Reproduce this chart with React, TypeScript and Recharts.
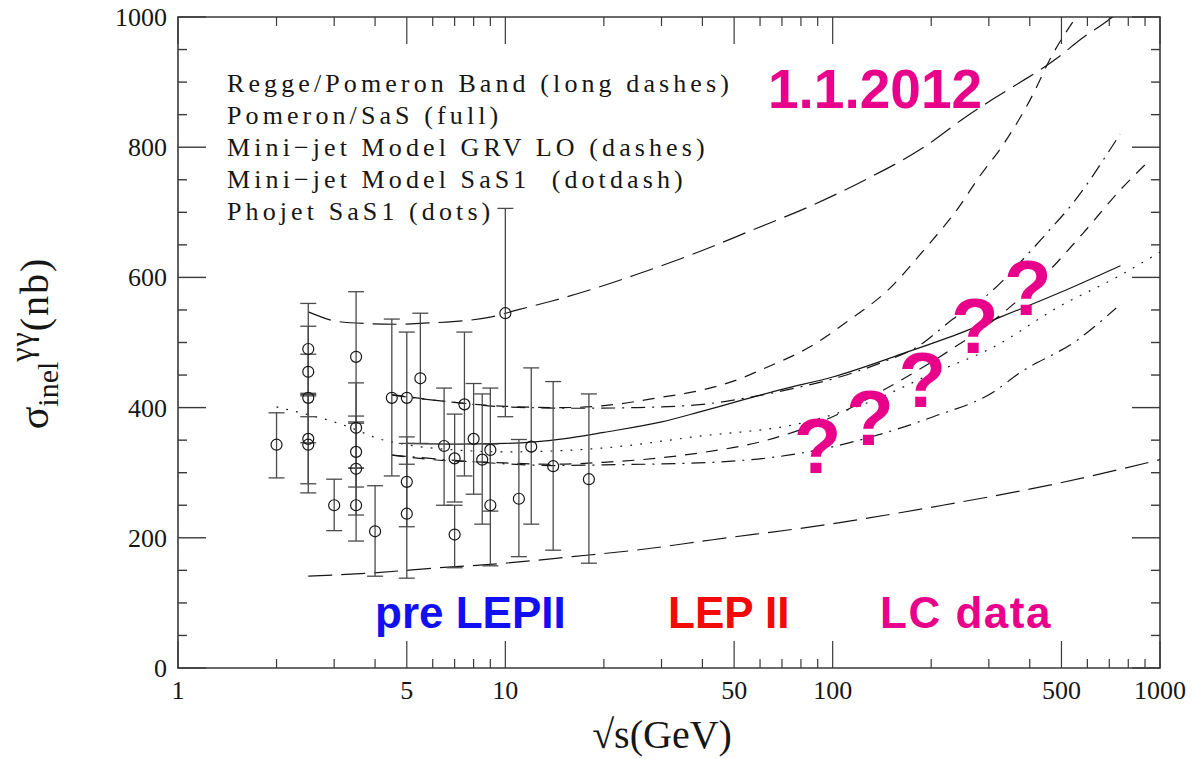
import React from "react";
import {
  ComposedChart,
  Line,
  Scatter,
  ErrorBar,
  XAxis,
  YAxis,
  ReferenceArea,
  ReferenceDot,
} from "recharts";

const WIDTH = 1197;
const HEIGHT = 759;
// plot box inside the svg (margins below are chosen to land here)
const PLOT = { left: 178, right: 1160, top: 17, bottom: 668 };

const INK = "#161616";
const FRAME = "#3a3a3a";
const MAGENTA = "#e8008b";
const SERIF = "'Liberation Serif', 'Times New Roman', serif";
const SANS = "'Liberation Sans', Arial, sans-serif";

// axes
const xTicks = [
  1, 2, 3, 4, 5, 6, 7, 8, 9, 10, 20, 30, 40, 50, 60, 70, 80, 90, 100, 200,
  300, 400, 500, 600, 700, 800, 900, 1000,
];
const xLabels = [1, 5, 10, 50, 100, 500, 1000];
const yTicks = [
  0, 50, 100, 150, 200, 250, 300, 350, 400, 450, 500, 550, 600, 650, 700, 750,
  800, 850, 900, 950, 1000,
];
const yLabels = [0, 200, 400, 600, 800, 1000];

// measurements: sqrt(s) [GeV], sigma [nb], lower / upper end of error bar
const sqrtS = [
  2.0, 2.5, 2.5, 2.5, 2.5, 2.5, 3.0, 3.5, 3.5, 3.5, 3.5, 3.5, 4.0, 4.5, 5.0,
  5.0, 5.0, 5.5, 6.5, 7.0, 7.0, 7.5, 8.0, 8.5, 9.0, 9.0, 10, 11, 12, 14, 18,
];
const sigma = [
  343, 490, 455, 415, 352, 343, 250, 478, 369, 332, 306, 250, 210, 415, 415,
  286, 237, 445, 341, 322, 205, 405, 352, 320, 335, 250, 545, 260, 340, 310, 290,
];
const sigmaLow = [
  292, 420, 386, 346, 283, 269, 211, 378, 307, 278, 235, 195, 141, 295, 313,
  217, 138, 345, 250, 255, 154, 295, 267, 221, 241, 157, 386, 171, 221, 181, 161,
];
const sigmaHigh = [
  392, 560, 525, 482, 422, 418, 290, 578, 438, 387, 376, 307, 280, 536, 516,
  355, 345, 545, 430, 390, 250, 516, 437, 421, 430, 344, 706, 351, 461, 440, 421,
];

// model curves [sqrt(s), sigma]
const reggeUpper = [
  [2.5, 547], [3.1, 532], [3.8, 529], [4.7, 528], [5.8, 530], [6.9, 532],
  [9, 539], [10.9, 550], [13.7, 563], [18.2, 581], [25, 604], [38, 637],
  [57, 673], [85, 709], [127, 751], [190, 800], [251, 844], [309, 874],
  [372, 899], [440, 922], [491, 939], [570, 965], [690, 994], [720, 1001],
];
const reggeLower = [
  [2.5, 141], [3.9, 146], [6.3, 154], [10, 161], [16, 171], [26, 182],
  [43, 197], [98, 221], [217, 250], [491, 284], [1000, 320],
];
const pomeronSaS = [
  [5, 345], [7, 344], [10, 345], [15, 352], [20, 362], [30, 378], [39, 393],
  [50, 408], [70, 428], [100, 447], [166, 484], [250, 516], [318, 537],
  [491, 576], [757, 618],
];
const grvUpper = [
  [4.5, 420], [7, 408], [10, 402], [15, 400], [20, 403], [30, 416], [40, 427],
  [50, 441], [63, 462], [85, 493], [110, 531], [150, 584], [190, 642],
  [243, 708], [280, 754], [333, 805], [410, 882], [460, 934], [560, 1003],
];
const grvLower = [
  [4.5, 327], [6, 320], [9, 316], [14, 313], [20, 316], [30, 323], [40, 331],
  [63, 350], [100, 386], [143, 427], [228, 488], [325, 542], [460, 611],
  [580, 667], [755, 734], [930, 780],
];
const sas1Upper = [
  [4.5, 419], [7, 408], [10, 401], [17, 399], [25, 400], [40, 405], [56, 416],
  [80, 432], [105, 447], [139, 468], [181, 493], [233, 536], [300, 575],
  [400, 639], [460, 673], [530, 708], [600, 744], [670, 780], [755, 820],
];
const sas1Lower = [
  [4.5, 327], [7, 319], [9, 315], [14, 311], [20, 312], [43, 316], [80, 330],
  [127, 353], [203, 386], [310, 424], [372, 453], [560, 504], [735, 553],
];
const phojet = [
  [2.0, 401], [2.5, 389], [3, 378], [3.5, 366], [4, 354], [5, 343], [7, 335],
  [10, 332], [15, 334], [20, 338], [39, 356], [80, 376], [127, 407],
  [203, 453], [310, 493], [491, 555], [755, 603], [1000, 639],
];

const legendLines = [
  "Regge/Pomeron Band (long dashes)",
  "Pomeron/SaS (full)",
  "Mini\u2212jet Model GRV LO (dashes)",
  "Mini\u2212jet Model SaS1  (dotdash)",
  "Phojet SaS1 (dots)",
];

// "?" marks for expected LC data, anchored at [sqrt(s), sigma]
const questionMarks = [
  [90, 300],
  [130, 343],
  [188, 401],
  [272, 484],
  [395, 542],
];

const toXY = (pts: number[][]) => pts.map(([x, y]) => ({ x, y }));

const points = sqrtS.map((x, i) => ({
  x,
  y: sigma[i],
  err: [sigma[i] - sigmaLow[i], sigmaHigh[i] - sigma[i]],
}));

const curves = [
  { name: "reggeUpper", data: toXY(reggeUpper), dash: "24 9" },
  { name: "reggeLower", data: toXY(reggeLower), dash: "24 9" },
  { name: "pomeronSaS", data: toXY(pomeronSaS), dash: undefined },
  { name: "grvUpper", data: toXY(grvUpper), dash: "12 9" },
  { name: "grvLower", data: toXY(grvLower), dash: "12 9" },
  { name: "sas1Upper", data: toXY(sas1Upper), dash: "14 7 2 7" },
  { name: "sas1Lower", data: toXY(sas1Lower), dash: "14 7 2 7" },
  { name: "phojet", data: toXY(phojet), dash: "1.8 8.2" },
];

const XTick = (props: any) => {
  const { x, payload } = props;
  const v = payload.value;
  const major = xLabels.includes(v);
  const len = major ? 27 : 9;
  return (
    <g>
      <line x1={x} x2={x} y1={PLOT.bottom} y2={PLOT.bottom - len} stroke={FRAME} strokeWidth={1.2} />
      <line x1={x} x2={x} y1={PLOT.top} y2={PLOT.top + len} stroke={FRAME} strokeWidth={1.2} />
      {major && (
        <text x={x} y={PLOT.bottom + 31} textAnchor="middle" fontFamily={SERIF} fontSize={26} fill={INK}>
          {v}
        </text>
      )}
    </g>
  );
};

const YTick = (props: any) => {
  const { y, payload } = props;
  const v = payload.value;
  const major = yLabels.includes(v);
  const len = major ? 28 : 9;
  return (
    <g>
      <line x1={PLOT.left} x2={PLOT.left + len} y1={y} y2={y} stroke={FRAME} strokeWidth={1.4} />
      <line x1={PLOT.right} x2={PLOT.right - len} y1={y} y2={y} stroke={FRAME} strokeWidth={1.4} />
      {major && (
        <text x={PLOT.left - 11} y={y + 9} textAnchor="end" fontFamily={SERIF} fontSize={26} fill={INK}>
          {v}
        </text>
      )}
    </g>
  );
};

const Circle = (props: any) => (
  <circle cx={props.cx} cy={props.cy} r={5.5} fill="none" stroke={INK} strokeWidth={1.2} />
);

const QMark = (props: any) => (
  <text
    x={props.cx}
    y={props.cy}
    textAnchor="middle"
    fontFamily={SANS}
    fontWeight="bold"
    fontSize={78}
    fill={MAGENTA}
  >
    ?
  </text>
);

export default function App() {
  return (
    <div style={{ position: "absolute", left: 0, top: 0, width: WIDTH, height: HEIGHT, background: "#fff" }}>
      <ComposedChart
        width={WIDTH}
        height={HEIGHT}
        margin={{ top: 12, right: 37, bottom: 51, left: 118 }}
      >
        <XAxis
          dataKey="x"
          type="number"
          scale="log"
          domain={[1, 1000]}
          allowDataOverflow
          ticks={xTicks}
          interval={0}
          tick={<XTick />}
          tickLine={false}
          axisLine={false}
          height={40}
        />
        <XAxis
          xAxisId="top"
          orientation="top"
          type="number"
          scale="log"
          domain={[1, 1000]}
          allowDataOverflow
          tick={false}
          tickLine={false}
          axisLine={false}
          height={5}
        />
        <YAxis
          type="number"
          domain={[0, 1000]}
          allowDataOverflow
          ticks={yTicks}
          interval={0}
          tick={<YTick />}
          tickLine={false}
          axisLine={false}
          width={60}
        />
        {curves.map((c) => (
          <Line
            key={c.name}
            data={c.data}
            dataKey="y"
            type="monotone"
            stroke={INK}
            strokeWidth={1.2}
            strokeDasharray={c.dash}
            dot={false}
            activeDot={false}
            isAnimationActive={false}
          />
        ))}
        <Scatter data={points} dataKey="y" shape={<Circle />} isAnimationActive={false}>
          <ErrorBar dataKey="err" direction="y" width={8} stroke="#4a4a4a" strokeWidth={1.3} />
        </Scatter>
        {questionMarks.map(([x, y], i) => (
          <ReferenceDot key={i} x={x} y={y} r={0} shape={QMark} />
        ))}
        <ReferenceArea
          x1={1}
          x2={1000}
          y1={0}
          y2={1000}
          fill="none"
          fillOpacity={0}
          stroke={FRAME}
          strokeWidth={1.6}
          ifOverflow="visible"
        />
      </ComposedChart>
      <svg
        width={WIDTH}
        height={HEIGHT}
        style={{ position: "absolute", left: 0, top: 0, pointerEvents: "none" }}
      >
        {legendLines.map((t, i) => (
          <text
            key={t}
            x={227}
            y={92 + i * 32}
            fontFamily={SERIF}
            fontSize={26}
            letterSpacing={4.1}
            fill={INK}
            style={{ whiteSpace: "pre" }}
          >
            {t}
          </text>
        ))}
        <text x={768} y={108} fontFamily={SANS} fontWeight="bold" fontSize={55} fill={MAGENTA}>
          1.1.2012
        </text>
        <text x={375} y={628} fontFamily={SANS} fontWeight="bold" fontSize={44} fill="#1010f0">
          pre LEPII
        </text>
        <text x={668} y={628} fontFamily={SANS} fontWeight="bold" fontSize={44} fill="#f20a0a">
          LEP II
        </text>
        <text x={880} y={628} fontFamily={SANS} fontWeight="bold" fontSize={44} letterSpacing={1.5} fill={MAGENTA}>
          LC data
        </text>
        <text x={662} y={748} textAnchor="middle" fontFamily={SERIF} fontSize={40} fill={INK}>
          {"\u221As(GeV)"}
        </text>
        <text
          x={48}
          y={343}
          transform="rotate(-90 48 343)"
          textAnchor="middle"
          fontFamily={SERIF}
          fill={INK}
        >
          <tspan fontSize={42}>σ</tspan>
          <tspan fontSize={30} dy={10}>inel</tspan>
          <tspan fontSize={32} dy={-26} letterSpacing={1}>γγ</tspan>
          <tspan fontSize={40} dy={16} letterSpacing={2}>(nb)</tspan>
        </text>
      </svg>
    </div>
  );
}
